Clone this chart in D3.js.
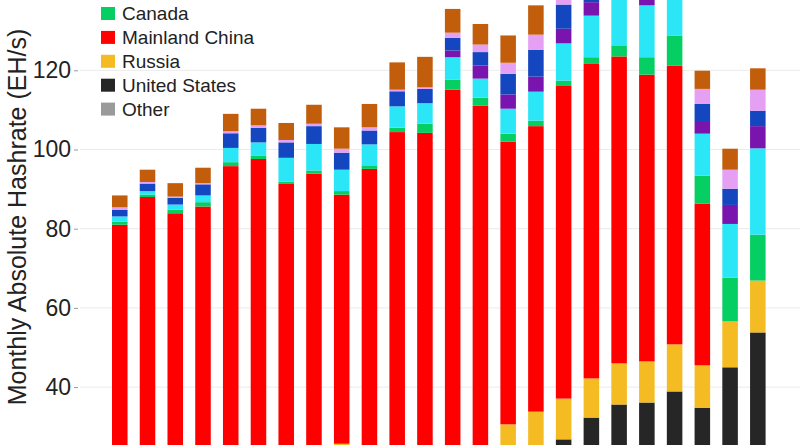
<!DOCTYPE html>
<html>
<head>
<meta charset="utf-8">
<script src="https://cdn.jsdelivr.net/npm/d3@7"></script>
<style>
  html, body { margin: 0; padding: 0; background: #ffffff; }
  svg { display: block; font-family: "Liberation Sans", Arial, Helvetica, sans-serif; }
</style>
</head>
<body>
<script>
// ---- Data (EH/s), Sep 2019 .. Aug 2021 ----
const months = ["2019-09","2019-10","2019-11","2019-12","2020-01","2020-02","2020-03","2020-04",
  "2020-05","2020-06","2020-07","2020-08","2020-09","2020-10","2020-11","2020-12",
  "2021-01","2021-02","2021-03","2021-04","2021-05","2021-06","2021-07","2021-08"];

const unitedStates = [5,5,5,5,5,6,6,6,12,13,13,14,15,16,20.5,23.5,26.8,32.3,35.6,36.1,38.9,34.8,45.0,53.8];
const russia       = [7,7,7,7,7,7,7,8,13.7,9,9,9,9,8,10.1,10.3,10.3,9.9,10.4,10.4,11.9,10.7,11.6,13.1];
const mainlandChina= [69.0,76.0,71.9,73.6,83.8,84.6,78.3,79.9,62.9,73.1,82.4,81.2,91.1,87.1,71.4,72.1,79.1,79.4,77.5,72.4,70.4,40.8,0,0];
const canada       = [0.8,0.6,0.9,1.1,1.0,0.9,0.6,0.8,0.9,0.9,1.1,2.3,2.5,2.0,2.0,1.4,1.2,1.7,2.8,4.4,7.6,7.1,11.0,11.6];
const kazakhstan   = [1.3,0.9,1.3,1.7,3.6,3.3,6.0,6.7,5.4,5.3,5.4,5.2,5.7,4.8,6.3,7.3,9.4,10.5,14.0,13.1,12.5,10.6,13.6,21.8];
const malaysia     = [0,0,0,0,0,0,0,0,0,0,0,0,1.7,3.3,3.6,3.8,3.7,3.4,3.5,3.5,3.5,3.2,4.8,5.6];
const iran         = [1.7,1.9,1.7,2.8,3.7,3.7,3.9,4.5,4.3,3.5,3.8,3.6,3.2,3.4,5.2,6.8,6.1,5.5,5.0,5.0,5.0,4.3,4.1,3.9];
const germany      = [0.6,0.4,0.3,0.3,0.5,0.6,0.6,0.6,1.0,0.8,0.4,0.4,1.3,1.9,2.8,3.8,3.0,2.5,2.5,3.0,3.0,3.8,4.8,5.3];
const ireland      = [3.0,3.1,3.4,3.9,4.4,4.2,4.3,4.8,5.4,5.9,6.9,7.7,6.0,5.2,6.9,7.4,7.0,6.5,6.5,7.0,7.0,4.6,5.3,5.4];

// stack order, bottom to top
const seriesNames  = ["United States","Russia","Mainland China","Canada","Kazakhstan","Malaysia","Iran","Germany","Ireland"];
const seriesValues = [unitedStates, russia, mainlandChina, canada, kazakhstan, malaysia, iran, germany, ireland];
const seriesColors = ["#262626","#f4bb22","#ff0000","#05cf62","#2ae6f7","#7a14ae","#1446c0","#e5a0f4","#c25d0c"];

const legendNames  = ["Canada","Mainland China","Russia","United States","Other"];
const legendColors = ["#05cf62","#ff0000","#f4bb22","#262626","#9a9a9a"];

const yTicks = [40,60,80,100,120];
const yTitle = "Monthly Absolute Hashrate (EH/s)";

// ---- Build table ----
const table = months.map((m, i) => {
  const row = { month: m };
  seriesNames.forEach((s, k) => row[s] = seriesValues[k][i]);
  return row;
});
const stacked = d3.stack().keys(seriesNames)(table);

const W = 800, H = 445;
const svg = d3.select("body").append("svg").attr("width", W).attr("height", H);

const x = d3.scaleBand().domain(months).range([105.9, 771.7]).paddingInner(0.44).paddingOuter(0.22);
const y = d3.scaleLinear().domain([0, 140]).range([545.5, -8.9]);
const color = d3.scaleOrdinal().domain(seriesNames).range(seriesColors);

// gridlines
svg.append("g").selectAll("line").data(yTicks).join("line")
  .attr("x1", 80).attr("x2", W)
  .attr("y1", d => y(d)).attr("y2", d => y(d))
  .attr("stroke", "#ebebeb").attr("stroke-width", 1);

// bars
svg.append("g").selectAll("g").data(stacked).join("g")
  .attr("fill", d => color(d.key))
  .selectAll("rect").data(d => d).join("rect")
  .attr("x", d => x(d.data.month))
  .attr("width", x.bandwidth())
  .attr("y", d => y(d[1]))
  .attr("height", d => Math.max(0, y(d[0]) - y(d[1])));

// y axis
const yAxis = svg.append("g").attr("transform", "translate(78,0)")
  .call(d3.axisLeft(y).tickValues(yTicks).tickSize(4).tickPadding(3).tickFormat(d3.format("d")));
yAxis.select(".domain").remove();
yAxis.selectAll(".tick line").attr("stroke", "#999");
yAxis.selectAll(".tick text").attr("fill", "#222").style("font-size", "23px")
  .style("font-family", "'Liberation Sans', Arial, sans-serif");

// y title
svg.append("text")
  .attr("transform", "translate(25.5,217) rotate(-90)")
  .attr("text-anchor", "middle")
  .attr("fill", "#222")
  .style("font-size", "25px")
  .text(yTitle);

// legend
const lg = svg.append("g").selectAll("g").data(legendNames).join("g")
  .attr("transform", (d, i) => `translate(101,${13.5 + i * 23.9})`);
lg.append("rect").attr("x", 0).attr("y", -6.5).attr("width", 14).attr("height", 13)
  .attr("fill", (d, i) => legendColors[i]);
lg.append("text").attr("x", 21).attr("y", 0).attr("dy", "0.36em")
  .attr("fill", "#222").style("font-size", "19px").text(d => d);
</script>
</body>
</html>
